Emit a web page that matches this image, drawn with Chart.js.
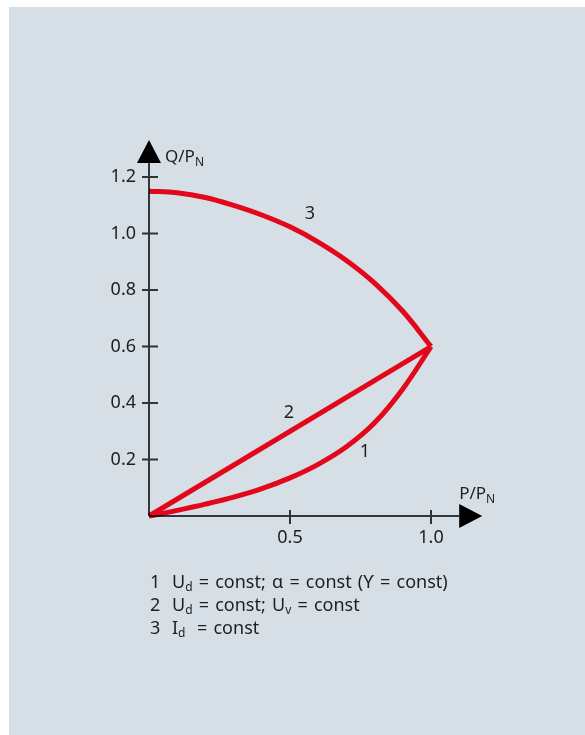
<!DOCTYPE html>
<html>
<head>
<meta charset="utf-8">
<script src="https://cdn.jsdelivr.net/npm/chart.js@4"></script>
<style>
  html, body { margin: 0; padding: 0; background: #ffffff; }
  body { width: 585px; height: 735px; position: relative; overflow: hidden; font-family: "Noto Sans", "Open Sans", sans-serif; }
  #panel { position: absolute; left: 9px; top: 7px; width: 576px; height: 728px; background: #d7dfe6; }
  #wrap { position: absolute; left: 0; top: 0; width: 585px; height: 735px; }
  #legend { position: absolute; left: 150px; top: 570px; font-size: 18px; line-height: 23px; color: #1e1e1e; white-space: nowrap; word-spacing: 1.5px; }
  #legend .n { display: inline-block; width: 22px; }
  #legend .s { display: inline-block; width: 25px; }
  #legend sub { font-size: 12px; vertical-align: -3px; line-height: 0; }
</style>
</head>
<body>
<div id="panel"></div>
<div id="wrap"><canvas id="c" width="585" height="735"></canvas></div>
<div id="legend">
  <div><span class="n">1</span>U<sub>d</sub> = const; α = const (ϒ = const)</div>
  <div><span class="n">2</span>U<sub>d</sub> = const; U<sub>v</sub> = const</div>
  <div><span class="n">3</span><span class="s">I<sub>d</sub></span>= const</div>
</div>
<script>
// ---- data ----
const pValues   = [0, 0.1, 0.2, 0.3, 0.4, 0.5, 0.6, 0.7, 0.8, 0.9, 1.0];
const curve1Q   = [0, 0.02, 0.042, 0.067, 0.097, 0.135, 0.183, 0.245, 0.33, 0.45, 0.6];
const curve2P   = [0, 1.0];
const curve2Q   = [0, 0.6];
const curve3Q   = [1.15, 1.145, 1.128, 1.10, 1.066, 1.024, 0.97, 0.905, 0.825, 0.725, 0.6];
const xTicks    = [0.5, 1.0];
const xTickText = ["0.5", "1.0"];
const yTicks    = [0.2, 0.4, 0.6, 0.8, 1.0, 1.2];
const yTickText = ["0.2", "0.4", "0.6", "0.8", "1.0", "1.2"];
const curveNames = ["1", "2", "3"];
const curveNameAt = [[0.766, 0.227], [0.496, 0.365], [0.571, 1.069]];

const RED = "#e2071a";
const INK = "#1e1e1e";
const FONT = '"Noto Sans", "Open Sans", sans-serif';

const toXY = (xs, ys) => xs.map((x, i) => ({ x: x, y: ys[i] }));

const axesPlugin = {
  id: "axesPlugin",
  afterDatasetsDraw(chart) {
    const ctx = chart.ctx;
    const xs = chart.scales.x, ys = chart.scales.y;
    const x0 = xs.getPixelForValue(0), y0 = ys.getPixelForValue(0);
    const xEnd = chart.chartArea.right, yEnd = chart.chartArea.top;
    ctx.save();
    // axis lines
    ctx.strokeStyle = "#000";
    ctx.lineWidth = 1.5;
    ctx.beginPath();
    ctx.moveTo(x0, y0); ctx.lineTo(x0, yEnd);
    ctx.moveTo(x0, y0); ctx.lineTo(xEnd, y0);
    ctx.stroke();
    // arrows
    ctx.fillStyle = "#000";
    ctx.beginPath();
    ctx.moveTo(x0 - 12, yEnd); ctx.lineTo(x0 + 12, yEnd); ctx.lineTo(x0, yEnd - 23); ctx.closePath();
    ctx.fill();
    ctx.beginPath();
    ctx.moveTo(xEnd, y0 - 12); ctx.lineTo(xEnd, y0 + 12); ctx.lineTo(xEnd + 23, y0); ctx.closePath();
    ctx.fill();
    // ticks
    ctx.strokeStyle = "#333";
    ctx.lineWidth = 2;
    ctx.beginPath();
    yTicks.forEach(v => { const py = ys.getPixelForValue(v); ctx.moveTo(x0 - 7, py); ctx.lineTo(x0 + 9, py); });
    xTicks.forEach(v => { const px = xs.getPixelForValue(v); ctx.moveTo(px, y0 - 6); ctx.lineTo(px, y0 + 8); });
    ctx.stroke();
    // tick labels
    ctx.fillStyle = INK;
    ctx.font = "18px " + FONT;
    ctx.textAlign = "right"; ctx.textBaseline = "middle";
    yTicks.forEach((v, i) => ctx.fillText(yTickText[i], x0 - 13, ys.getPixelForValue(v)));
    ctx.textAlign = "center"; ctx.textBaseline = "top";
    xTicks.forEach((v, i) => ctx.fillText(xTickText[i], xs.getPixelForValue(v), y0 + 13));
    // axis titles
    ctx.textAlign = "left"; ctx.textBaseline = "alphabetic";
    ctx.font = "17px " + FONT;
    let w = ctx.measureText("Q/P").width;
    ctx.fillText("Q/P", x0 + 16, yEnd - 1);
    ctx.font = "12px " + FONT;
    ctx.fillText("N", x0 + 16 + w, yEnd + 3);
    ctx.font = "17px " + FONT;
    w = ctx.measureText("P/P").width;
    ctx.fillText("P/P", xEnd, y0 - 17);
    ctx.font = "12px " + FONT;
    ctx.fillText("N", xEnd + w, y0 - 13);
    // curve names
    ctx.font = "18px " + FONT;
    ctx.textAlign = "center"; ctx.textBaseline = "middle";
    curveNames.forEach((t, i) => ctx.fillText(t, xs.getPixelForValue(curveNameAt[i][0]), ys.getPixelForValue(curveNameAt[i][1])));
    ctx.restore();
  }
};

const common = { borderColor: RED, borderWidth: 5, pointRadius: 0, fill: false, clip: false, tension: 0.4 };

new Chart(document.getElementById("c"), {
  type: "line",
  data: {
    datasets: [
      Object.assign({ label: "1", data: toXY(pValues, curve1Q) }, common),
      Object.assign({ label: "2", data: toXY(curve2P, curve2Q) }, common, { tension: 0 }),
      Object.assign({ label: "3", data: toXY(pValues, curve3Q) }, common)
    ]
  },
  options: {
    responsive: false,
    animation: false,
    layout: { padding: { left: 149, right: 125.8, top: 163, bottom: 219 } },
    plugins: { legend: { display: false }, tooltip: { enabled: false } },
    events: [],
    scales: {
      x: { type: "linear", min: 0, max: 1.1, display: false },
      y: { type: "linear", min: 0, max: 1.25, display: false }
    }
  },
  plugins: [axesPlugin]
});
</script>
</body>
</html>
